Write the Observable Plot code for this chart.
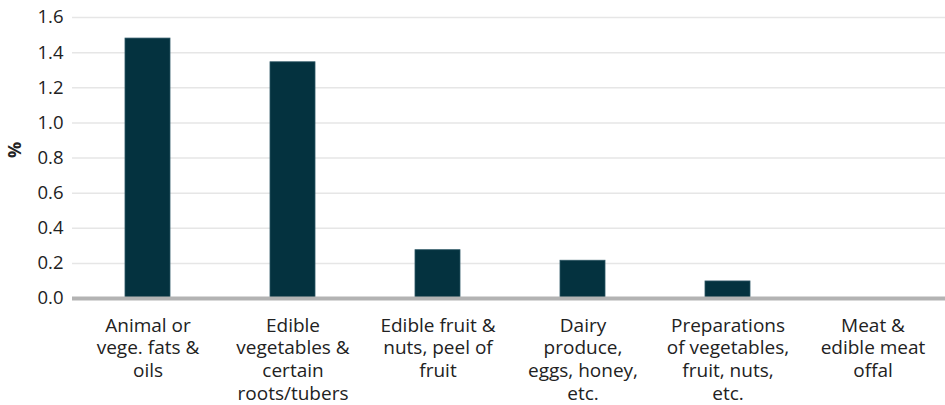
<!DOCTYPE html>
<html><head><meta charset="utf-8">
<script src="https://cdn.jsdelivr.net/npm/d3@7"></script>
<script src="https://cdn.jsdelivr.net/npm/@observablehq/plot@0.6"></script>
<style>body{margin:0;background:#fff;overflow:hidden;} svg{font-family:"Open Sans",sans-serif;}</style>
</head><body><div id="chart"></div>
<script>
const categories = [
  "Animal or\nvege. fats &\noils",
  "Edible\nvegetables &\ncertain\nroots/tubers",
  "Edible fruit &\nnuts, peel of\nfruit",
  "Dairy\nproduce,\neggs, honey,\netc.",
  "Preparations\nof vegetables,\nfruit, nuts,\netc.",
  "Meat &\nedible meat\noffal"
];
const values = [1.48, 1.345, 0.275, 0.215, 0.097, 0];
const yTicks = [0, 0.2, 0.4, 0.6, 0.8, 1.0, 1.2, 1.4, 1.6];
const data = categories.map((c, i) => ({cat: c, v: values[i]}));

const chart = Plot.plot({
  width: 945, height: 405,
  marginLeft: 72, marginRight: 0, marginTop: 17, marginBottom: 107,
  style: {fontFamily: "Open Sans, sans-serif", fontSize: "19px", color: "#222", overflow: "hidden"},
  x: {domain: categories, range: [72.5, 947.5], paddingInner: 0.69, paddingOuter: 0.345, label: null},
  y: {domain: [0, 1.6], label: null},
  marks: [
    Plot.gridY(yTicks, {stroke: "#e6e6e6", strokeOpacity: 1, strokeWidth: 1.5}),
    Plot.barY(data, {x: "cat", y: "v", fill: "#04323f", stroke: "#2c5664", strokeWidth: 0.8}),
    Plot.ruleY([0], {stroke: "#b3b3b3", strokeWidth: 4}),
    Plot.axisY(yTicks, {tickSize: 0, tickPadding: 9, tickFormat: d3.format(".1f"), fontSize: 18.5, fill: "#222", label: null}),
    Plot.axisX({tickSize: 0, tickPadding: 17, lineHeight: 1.2, fontSize: 19, fill: "#222", label: null}),
    Plot.text(["%"], {frameAnchor: "left", dx: -57, rotate: -90, fontWeight: "bold", fontSize: 18, fill: "#222"})
  ]
});
document.getElementById("chart").appendChild(chart);
</script>
</body></html>
